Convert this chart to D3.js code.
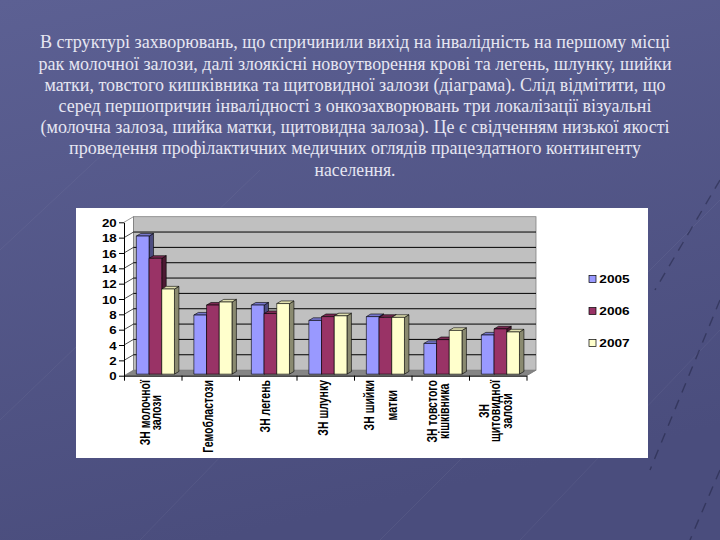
<!DOCTYPE html>
<html><head><meta charset="utf-8">
<script src="https://cdn.jsdelivr.net/npm/d3@7"></script>
<style>html,body{margin:0;padding:0;background:#545889}svg{display:block}</style>
</head><body>
<svg id="chart" width="720" height="540"></svg>
<script>
// ---------- data ----------
const titleLines = [
  "В структурі захворювань, що спричинили вихід на інвалідність на першому місці",
  "рак молочної залози, далі злоякісні новоутворення крові та легень, шлунку, шийки",
  "матки, товстого кишківника та щитовидної залози (діаграма). Слід відмітити, що",
  "серед першопричин інвалідності з онкозахворювань три локалізації візуальні",
  "(молочна залоза, шийка матки, щитовидна залоза). Це є свідченням низької якості",
  "проведення профілактичних медичних оглядів працездатного контингенту",
  "населення."
];
const categories = ["ЗН молочної залози","Гемобластози","ЗН легень","ЗН шлунку","ЗН шийки матки","ЗН товстого кішківника","ЗН щитовидної залози"];
const categoryLabelLines = [["ЗН молочної","залози"],["Гемобластози"],["ЗН легень"],["ЗН шлунку"],["ЗН шийки","","матки"],["ЗН товстого","кішківника"],["ЗН","щитовидної","залози"]];
const seriesNames = ["2005","2006","2007"];
const values2005 = [18.0, 7.7, 9.0, 7.0, 7.5, 4.0, 5.1];
const values2006 = [15.1, 9.0, 7.9, 7.5, 7.4, 4.5, 5.9];
const values2007 = [11.1, 9.4, 9.2, 7.6, 7.4, 5.7, 5.5];
const yTicks = [0,2,4,6,8,10,12,14,16,18,20];
const seriesValues = [values2005, values2006, values2007];

// ---------- layout / style ----------
const SANS = "Liberation Sans";
const svg = d3.select("#chart");
const defs = svg.append("defs");
const bg = defs.append("linearGradient").attr("id","bg").attr("x1",0).attr("y1",0).attr("x2",0.3).attr("y2",1);
bg.append("stop").attr("offset","0%").attr("stop-color","#5c6093");
bg.append("stop").attr("offset","100%").attr("stop-color","#4a4d7d");
svg.append("rect").attr("width",720).attr("height",540).attr("fill","url(#bg)");

// faint background decoration
const deco = svg.append("g").attr("fill","none");
[[0,420,260,170],[140,540,420,250],[380,540,720,200],[0,250,150,110],[520,540,720,330]].forEach(d=>{
  deco.append("line").attr("x1",d[0]).attr("y1",d[1]).attr("x2",d[2]).attr("y2",d[3])
    .attr("stroke","#ffffff").attr("stroke-opacity",0.05).attr("stroke-width",1);
});
[[720,180,655,290],[720,300,650,470],[720,470,690,540]].forEach(d=>{
  deco.append("line").attr("x1",d[0]).attr("y1",d[1]).attr("x2",d[2]).attr("y2",d[3])
    .attr("stroke","#1a1c3a").attr("stroke-opacity",0.45).attr("stroke-width",1.4).attr("stroke-dasharray","10 8");
});

// title
const titleBaselines = [48.3,69.5,90.7,111.9,133.1,154.3,175.5];
const titleWidths = [630,633,621,593,629,572,81];
svg.append("g").selectAll("text").data(titleLines).join("text")
  .attr("x",355).attr("y",(d,i)=>titleBaselines[i])
  .attr("text-anchor","middle")
  .attr("font-family","Liberation Serif")
  .attr("font-size","18.5").attr("fill","#e6e6f2")
  .attr("textLength",(d,i)=>titleWidths[i]).attr("lengthAdjust","spacingAndGlyphs")
  .text(d=>d);

// white panel
svg.append("rect").attr("x",76).attr("y",208).attr("width",572).attr("height",250).attr("fill","#ffffff");

// scales
const x = d3.scaleBand().domain(categories).range([124,526.5]).paddingInner(0).paddingOuter(0);
const y = d3.scaleLinear().domain([0,20]).range([375.7,222.3]);
const inner = d3.scaleBand().domain(seriesNames).range([9.7, x.bandwidth()-9.7]);
const D = [9.5,-5.6]; // depth vector
const x0 = x.range()[0], x1 = x.range()[1];

const g = svg.append("g");
// floor
g.append("polygon").attr("points",[[x0,y(0)],[x0+D[0],y(0)+D[1]],[x1+D[0],y(0)+D[1]],[x1,y(0)]].map(p=>p.join(",")).join(" "))
  .attr("fill","#858585").attr("stroke","#6a6a6a").attr("stroke-width",0.6);
// back wall
g.append("rect").attr("x",x0+D[0]).attr("y",y(20)+D[1]).attr("width",x1-x0).attr("height",y(0)-y(20))
  .attr("fill","#c0c0c0").attr("stroke","#808080").attr("stroke-width",0.8);
g.append("line").attr("x1",x0).attr("y1",y(20)).attr("x2",x0+D[0]).attr("y2",y(20)+D[1]).attr("stroke","#808080").attr("stroke-width",0.8);
g.append("line").attr("x1",x0+D[0]).attr("y1",y(20)+D[1]).attr("x2",x0+D[0]).attr("y2",y(0)+D[1]).attr("stroke","#808080").attr("stroke-width",0.8);
// gridlines
const grid = g.append("g");
yTicks.filter(t=>t>0 && t<20).forEach(t=>{
  grid.append("line").attr("x1",x0+D[0]).attr("x2",x1+D[0]).attr("y1",y(t)+D[1]).attr("y2",y(t)+D[1])
    .attr("stroke","#000").attr("stroke-width",1);
  grid.append("line").attr("x1",x0).attr("x2",x0+D[0]).attr("y1",y(t)).attr("y2",y(t)+D[1])
    .attr("stroke","#000").attr("stroke-width",0.7);
});

// bars
const colors = {
  "2005":{front:"#9999ff",top:"#7777cc",side:"#4c4c80"},
  "2006":{front:"#993366",top:"#7a2952",side:"#4d1a33"},
  "2007":{front:"#ffffcc",top:"#e0e0b0",side:"#8a8a70"}
};
const f1 = 0.28, f2 = 0.75;
const bars = g.append("g").attr("stroke","#000").attr("stroke-width",0.6).attr("stroke-linejoin","round");
const pts = a=>a.map(p=>p[0].toFixed(2)+","+p[1].toFixed(2)).join(" ");
categories.forEach((c,ci)=>{
  seriesNames.forEach((s,si)=>{
    const v = seriesValues[si][ci];
    const bx = x(c)+inner(s), w = inner.bandwidth();
    const yt = y(v), yb = y(0);
    const P = (px,py,f)=>[px+f*D[0], py+f*D[1]];
    const col = colors[s];
    bars.append("polygon").attr("fill",col.side)
      .attr("points",pts([P(bx+w,yt,f1),P(bx+w,yt,f2),P(bx+w,yb,f2),P(bx+w,yb,f1)]));
    bars.append("polygon").attr("fill",col.top)
      .attr("points",pts([P(bx,yt,f1),P(bx+w,yt,f1),P(bx+w,yt,f2),P(bx,yt,f2)]));
    bars.append("polygon").attr("fill",col.front)
      .attr("points",pts([P(bx,yt,f1),P(bx+w,yt,f1),P(bx+w,yb,f1),P(bx,yb,f1)]));
  });
});

// y axis
const yAxis = g.append("g").attr("transform",`translate(${x0},0)`)
  .call(d3.axisLeft(y).tickValues(yTicks).tickSize(5).tickSizeOuter(0).tickFormat(d3.format("d")));
yAxis.select(".domain").attr("stroke","#000");
yAxis.selectAll(".tick line").attr("stroke","#000");
yAxis.attr("font-family",SANS).attr("font-size",10);
yAxis.selectAll("text").attr("x",null).attr("dy",null)
  .attr("font-weight","bold")
  .attr("dominant-baseline","central")
  .attr("transform","translate(-7.3,0.3) scale(1.33,1)")
  .attr("fill","#000");

// x axis (ticks at category boundaries)
const xb = d3.scaleLinear().domain([0,categories.length]).range([x0,x1]);
const xAxis = g.append("g").attr("transform",`translate(0,${y(0)})`)
  .call(d3.axisBottom(xb).ticks(categories.length).tickSize(5).tickSizeOuter(0).tickFormat(""));
xAxis.select(".domain").attr("stroke","#000");
xAxis.selectAll(".tick line").attr("stroke","#000");
g.append("line").attr("x1",x1).attr("y1",y(0)).attr("x2",x1+D[0]).attr("y2",y(0)+D[1]).attr("stroke","#808080").attr("stroke-width",0.8);

// category labels (rotated)
const labG = g.append("g").attr("font-family",SANS).attr("font-weight","bold").attr("font-size","10.5").attr("fill","#000");
const lineStep = 11.5, stretch = 1.35;
categories.forEach((c,ci)=>{
  const lines = categoryLabelLines[ci];
  const cx = x(c)+x.bandwidth()/2 - 2;
  const tmp = lines.map(l=>labG.append("text").attr("text-anchor","middle").attr("dominant-baseline","central").text(l));
  const maxLen = d3.max(tmp, t=>t.node().getComputedTextLength());
  const yc = 380 + maxLen/2;
  tmp.forEach((t,li)=>{
    const lx = cx + (li-(lines.length-1)/2)*lineStep;
    t.attr("transform",`translate(${lx},${yc}) rotate(-90) scale(1,${stretch})`);
  });
});

// legend
const legendY = [279,311,343];
const leg = g.append("g");
seriesNames.forEach((s,i)=>{
  leg.append("rect").attr("x",589).attr("y",legendY[i]-3.5).attr("width",7).attr("height",7)
    .attr("fill",colors[s].front).attr("stroke","#000").attr("stroke-width",0.7);
  leg.append("text").attr("x",0).attr("y",0)
    .attr("transform",`translate(599.3,${legendY[i]+0.3}) scale(1.3,1)`)
    .attr("dominant-baseline","central")
    .attr("font-family",SANS).attr("font-weight","bold")
    .attr("font-size","10.5").attr("fill","#000").text(s);
});
</script>
</body></html>
